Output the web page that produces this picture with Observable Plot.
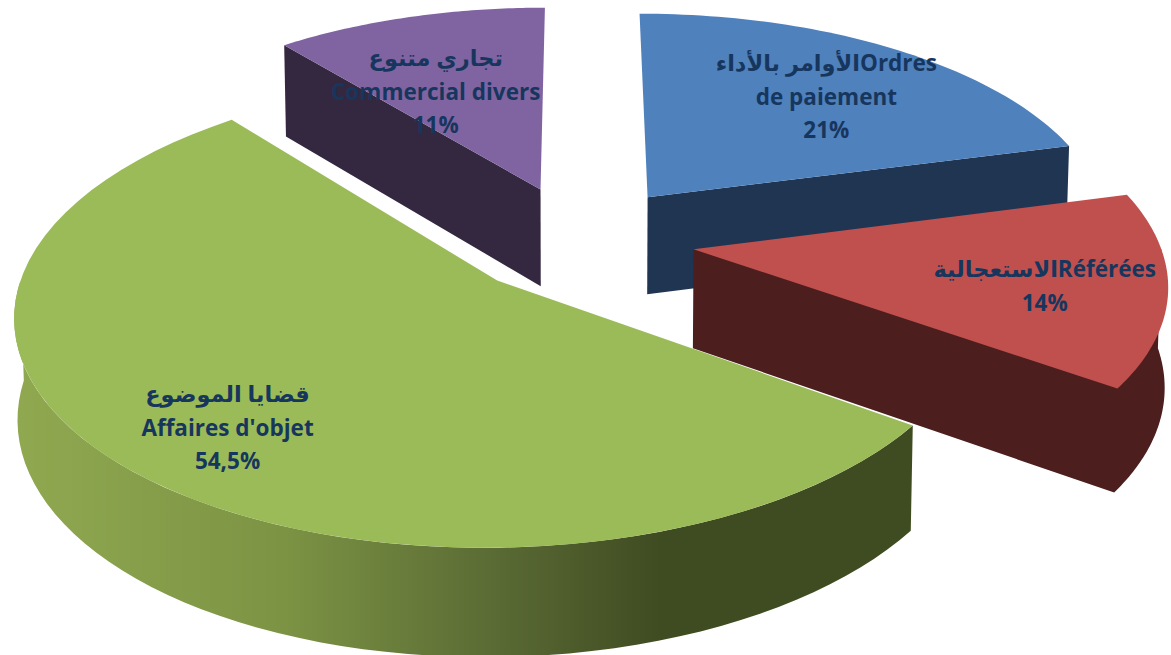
<!DOCTYPE html>
<html><head><meta charset="utf-8">
<script src="https://cdn.jsdelivr.net/npm/d3@7"></script>
<script src="https://cdn.jsdelivr.net/npm/@observablehq/plot@0.6"></script>
<style>html,body{margin:0;padding:0;background:#fff;overflow:hidden}svg{display:block}</style>
</head><body><div id="chart"></div>
<script>
const categories = ["Ordres de paiement","Référées","Affaires d'objet","Commercial divers"];
const values = [21, 14, 54.5, 11];
const labels = [
  "الأوامر بالأداءOrdres\nde paiement\n21%",
  "الاستعجاليةRéférées\n14%",
  "قضايا الموضوع\nAffaires d'objet\n54,5%",
  "تجاري متنوع\nCommercial divers\n11%"
];
const topColors = ["#4F81BD","#C0504D","#9BBB59","#8064A2"];
const wallColors = ["#1F3552","#4C1E1E","url(#greenWall)","#332840"];
const labelRadius = [0.678, 0.746, 0.772, 0.573];
const labelTurn = [2, 1.8, -2, -6.6];
const drawOrder = [3, 0, 1, 2];

// view of the tilted pie
const explode = 0.25, persp = 0.135, depth = 0.45, lowShrink = 0.994;
const W = 1171, H = 655, cx = 578, cy = 239, unitX = 465, unitY = 219;

const total = d3.sum(values);
const rad = d => d * Math.PI / 180;
let acc = 0;
const slices = values.map((v, i) => {
  const a0 = acc / total * 360; acc += v; const a1 = acc / total * 360;
  const mid = (a0 + a1) / 2;
  return {i, a0, a1, mid, ox: explode * Math.sin(rad(mid)), oy: explode * Math.cos(rad(mid))};
});
function proj(s, r, a, low) {
  const X = s.ox + r * Math.sin(rad(a)), Y = s.oy + r * Math.cos(rad(a));
  const k = 1 / (1 + persp * Y);
  return {x: X * k * (low ? lowShrink : 1), y: Y * k - (low ? depth * Math.pow(k, 0.6) : 0)};
}
const arc = (s, a, b, low) => d3.range(0, 61).map(t => proj(s, 1, a + (b - a) * t / 60, low));

const marks = [() => {
  const defs = d3.create("svg:defs");
  const g = defs.append("linearGradient").attr("id", "greenWall");
  [[0,"#90A950"],[0.3,"#7C9344"],[0.55,"#586833"],[0.72,"#3F4B21"],[1,"#3F4B21"]]
    .forEach(([o,c]) => g.append("stop").attr("offset", o).attr("stop-color", c));
  return defs.node();
}];
const poly = (pts, fill) => Plot.line(pts, {x:"x", y:"y", fill, stroke:"none", curve:"linear-closed"});

for (const i of drawOrder) {
  const s = slices[i];
  const apexT = proj(s, 0, 0, false), apexB = proj(s, 0, 0, true);
  let wall;
  if (i === 0) wall = [apexT, proj(s,1,s.a1,false), proj(s,1,s.a1,true), apexB];
  if (i === 3) wall = [apexT, proj(s,1,s.a0,false), proj(s,1,s.a0,true), apexB];
  if (i === 1) wall = [apexT, proj(s,1,90,false), ...arc(s, 90, s.a1, true), apexB];
  if (i === 2) wall = [...arc(s, s.a0, 270, false), ...arc(s, 270, s.a0, true)];
  marks.push(poly(wall, wallColors[i]));
  marks.push(poly([apexT, ...arc(s, s.a0, s.a1, false)], topColors[i]));
}

const labelData = slices.map(s => ({...proj(s, labelRadius[s.i], s.mid + labelTurn[s.i], false), text: labels[s.i]}));
marks.push(Plot.text(labelData, {
  x:"x", y:"y", text:"text", fill:"#17365D", fontWeight:700, fontSize:22.5, dy:-1.5,
  fontFamily:"'Open Sans', 'DejaVu Sans', sans-serif", lineHeight:1.49, textAnchor:"middle"
}));

document.getElementById("chart").append(Plot.plot({
  width:W, height:H, margin:0,
  x:{domain:[-cx/unitX,(W-cx)/unitX], range:[0,W], axis:null},
  y:{domain:[cy/unitY,(cy-H)/unitY], range:[0,H], axis:null},
  marks
}));
</script></body></html>
